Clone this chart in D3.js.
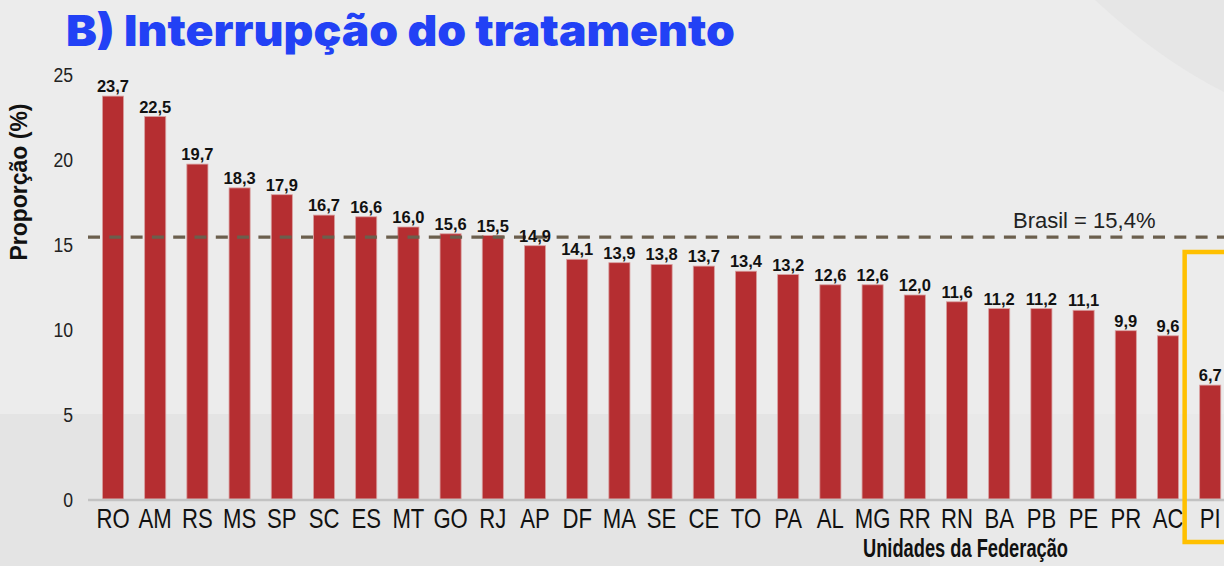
<!DOCTYPE html>
<html>
<head>
<meta charset="utf-8">
<script src="https://cdn.jsdelivr.net/npm/d3@7"></script>
<style>
html,body{margin:0;padding:0;background:#ececec;}
svg{display:block;}
</style>
</head>
<body>
<svg id="chart" width="1224" height="566"></svg>
<script>
const categories = ["RO","AM","RS","MS","SP","SC","ES","MT","GO","RJ","AP","DF","MA","SE","CE","TO","PA","AL","MG","RR","RN","BA","PB","PE","PR","AC","PI"];
const values = [23.7,22.5,19.7,18.3,17.9,16.7,16.6,16.0,15.6,15.5,14.9,14.1,13.9,13.8,13.7,13.4,13.2,12.6,12.6,12.0,11.6,11.2,11.2,11.1,9.9,9.6,6.7];
const yTicks = [0,5,10,15,20,25];
const brasil = 15.4;
const titleText = "B) Interrupção do tratamento";
const yTitle = "Proporção (%)";
const xTitle = "Unidades da Federação";
const refLabel = "Brasil = 15,4%";
const highlighted = ["PI"];

const W = 1224, H = 566;
const svg = d3.select("#chart");
const SANS = "'Liberation Sans',Arial,sans-serif";

// background
svg.append("rect").attr("width", W).attr("height", H).attr("fill", "#ececec");
svg.append("rect").attr("x", 0).attr("y", 414).attr("width", 930).attr("height", H - 414).attr("fill", "#e4e4e4");
svg.append("rect").attr("x", 930).attr("y", 414).attr("width", W - 930).attr("height", H - 414).attr("fill", "#e9e9e9");
svg.append("path").attr("d", "M1095,0 Q1160,60 1224,92 L1224,0 Z").attr("fill", "#e6e6e6");

const x = d3.scaleBand().domain(categories).range([91.9, 91.9 + 42.2 * categories.length]).paddingInner(0.5).paddingOuter(0.25);
const y = d3.scaleLinear().domain([0, 25]).range([499, 74]);
const fmt = v => d3.format(".1f")(v).replace(".", ",");

// title
svg.append("text").attr("x", 66).attr("y", 46)
  .attr("font-family", "Inter,'Open Sans',Lato,sans-serif").attr("font-weight", 900)
  .attr("font-size", 43).attr("fill", "#2241f5")
  .attr("textLength", 669).attr("lengthAdjust", "spacingAndGlyphs")
  .text(titleText);

// y axis ticks (labels only, condensed)
const yAxis = d3.axisLeft(y).tickValues(yTicks).tickSize(0).tickPadding(0).tickFormat(d3.format("d"));
const gy = svg.append("g").attr("transform", "translate(73,0)").call(yAxis);
gy.select(".domain").remove();
gy.selectAll("text").attr("x", 0).attr("dy", 0).attr("y", 0)
  .attr("transform", "translate(0,7.5) scale(0.84,1)")
  .attr("font-family", SANS).attr("font-size", 21).attr("fill", "#222");

// y title
svg.append("text").attr("transform", "translate(27,182) rotate(-90)")
  .attr("text-anchor", "middle").attr("font-family", SANS).attr("font-weight", "bold")
  .attr("font-size", 24).attr("fill", "#111")
  .attr("textLength", 157).attr("lengthAdjust", "spacingAndGlyphs")
  .text(yTitle);

// bars
svg.append("g").selectAll("rect").data(categories).join("rect")
  .attr("x", d => x(d)).attr("width", x.bandwidth())
  .attr("y", (d, i) => y(values[i])).attr("height", (d, i) => y(0) - y(values[i]))
  .attr("fill", "#b52e31").attr("stroke", "#d9a0a0").attr("stroke-width", 0.8);

// baseline
svg.append("line").attr("x1", 88).attr("x2", W).attr("y1", y(0) + 1).attr("y2", y(0) + 1)
  .attr("stroke", "#c2c2c2").attr("stroke-width", 2.5);

// x axis labels (condensed)
const xAxis = d3.axisBottom(x).tickSize(0).tickPadding(0);
const gx = svg.append("g").call(xAxis);
gx.select(".domain").remove();
gx.selectAll("text").attr("y", 0).attr("dy", 0)
  .attr("transform", "translate(0,528) scale(0.82,1)")
  .attr("font-family", SANS).attr("font-size", 27).attr("fill", "#111");

// reference line
svg.append("line").attr("x1", 88).attr("x2", W).attr("y1", y(brasil)).attr("y2", y(brasil))
  .attr("stroke", "#6b5f4d").attr("stroke-width", 3.2).attr("stroke-dasharray", "12,9.3");
svg.append("text").attr("x", 1013).attr("y", 228).attr("font-family", SANS).attr("font-size", 22)
  .attr("fill", "#222").text(refLabel);

// value labels
svg.append("g").selectAll("text").data(categories).join("text")
  .attr("x", d => x(d) + x.bandwidth() / 2).attr("y", (d, i) => y(values[i]) - 4)
  .attr("text-anchor", "middle").attr("font-family", SANS).attr("font-weight", "bold")
  .attr("font-size", 16.5).attr("fill", "#111")
  .text((d, i) => fmt(values[i]));

// highlight box
highlighted.forEach(c => {
  svg.append("rect").attr("x", x(c) - 15).attr("y", 252).attr("width", 80).attr("height", 290)
    .attr("fill", "none").attr("stroke", "#ffc000").attr("stroke-width", 4.5);
});

// x title
svg.append("text").attr("x", 863).attr("y", 557).attr("font-family", SANS).attr("font-weight", "bold")
  .attr("font-size", 25).attr("fill", "#111")
  .attr("textLength", 205).attr("lengthAdjust", "spacingAndGlyphs")
  .text(xTitle);
</script>
</body>
</html>
